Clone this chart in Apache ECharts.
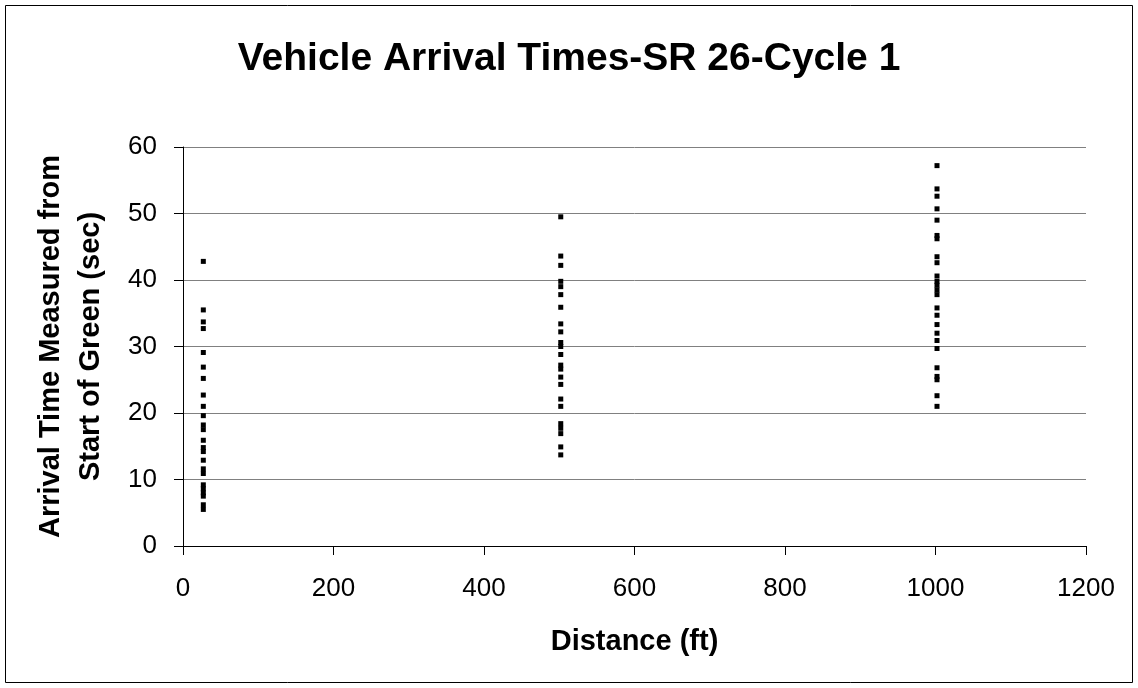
<!DOCTYPE html>
<html>
<head>
<meta charset="utf-8">
<script src="https://cdn.jsdelivr.net/npm/echarts@6/dist/echarts.min.js"></script>
<style>
  html, body { margin: 0; padding: 0; background: #fff; }
  #chart { width: 1138px; height: 688px; }
</style>
</head>
<body>
<div id="chart"></div>
<script>
// distances (ft) of the three observation points
var distances = [27, 502, 1002];

// arrival times (sec), one list per distance
var times27 = [42.8, 35.5, 33.7, 32.7, 29.1, 26.9, 25.2, 22.7, 21.0, 19.6, 18.2, 17.5,
  15.9, 14.8, 14.2, 12.9, 11.6, 10.9, 9.2, 8.6, 8.0, 7.5, 6.2, 5.5];
var times502 = [49.5, 43.6, 42.2, 39.8, 39.0, 37.8, 35.9, 33.4, 32.2, 30.6, 30.0, 28.8,
  27.2, 26.6, 25.4, 24.3, 22.1, 21.0, 18.4, 17.7, 16.9, 14.9, 13.7];
var times1002 = [57.2, 53.7, 52.6, 50.7, 49.0, 46.7, 46.2, 43.5, 42.6, 40.6, 39.8, 39.2,
  38.5, 37.8, 35.8, 34.7, 33.3, 32.0, 30.9, 29.7, 26.8, 25.5, 25.0, 22.6, 21.0];

var xTicks = [0, 200, 400, 600, 800, 1000, 1200];
var yTicks = [0, 10, 20, 30, 40, 50, 60];

var groups = [times27, times502, times1002];
var points = [];
groups.forEach(function (list, i) {
  list.forEach(function (t) {
    points.push([distances[i], t]);
  });
});

var font = "'Liberation Sans', Arial, sans-serif";
var chart = echarts.init(document.getElementById("chart"));

chart.setOption({
  backgroundColor: "#fff",
  animation: false,
  title: {
    text: "Vehicle Arrival Times-SR 26-Cycle 1",
    left: "center",
    top: 35,
    textStyle: {
      fontFamily: font,
      fontSize: 39,
      fontWeight: "bold",
      color: "#000",
    },
  },
  graphic: [
    {
      type: "rect",
      shape: { x: 5.5, y: 5.5, width: 1127, height: 677 },
      style: { fill: "none", stroke: "#000", lineWidth: 1 },
      silent: true,
    },
  ],
  grid: {
    left: 183,
    right: 52,
    top: 147,
    bottom: 142,
    containLabel: false,
  },
  xAxis: {
    type: "value",
    min: xTicks[0],
    max: xTicks[xTicks.length - 1],
    interval: 200,
    name: "Distance (ft)",
    nameLocation: "middle",
    nameGap: 96,
    nameTextStyle: {
      fontFamily: font,
      fontSize: 29,
      fontWeight: "bold",
      color: "#000",
      verticalAlign: "middle",
    },
    axisLine: { show: true, lineStyle: { color: "#000", width: 1 } },
    axisTick: { show: true, inside: false, length: 9, lineStyle: { color: "#000" } },
    axisLabel: {
      fontFamily: font,
      fontSize: 26,
      color: "#000",
      margin: 30,
      formatter: function (v) { return String(v); },
    },
    splitLine: { show: false },
  },
  yAxis: {
    type: "value",
    min: yTicks[0],
    max: yTicks[yTicks.length - 1],
    interval: 10,
    name: "Arrival Time Measured from\nStart of Green (sec)",
    nameLocation: "middle",
    nameGap: 112,
    nameRotate: 90,
    nameTextStyle: {
      fontFamily: font,
      fontSize: 29,
      fontWeight: "bold",
      color: "#000",
      lineHeight: 40,
      verticalAlign: "middle",
      align: "center",
    },
    axisLine: { show: true, lineStyle: { color: "#000", width: 1 } },
    axisTick: { show: true, inside: false, length: 9, lineStyle: { color: "#000" } },
    axisLabel: {
      fontFamily: font,
      fontSize: 26,
      color: "#000",
      margin: 26,
      formatter: function (v) { return String(v); },
    },
    splitLine: { show: true, lineStyle: { color: "#808080", width: 1 } },
  },
  series: [
    {
      type: "scatter",
      symbol: "rect",
      symbolSize: 5,
      itemStyle: { color: "#000", opacity: 1 },
      data: points,
    },
  ],
});
</script>
</body>
</html>
